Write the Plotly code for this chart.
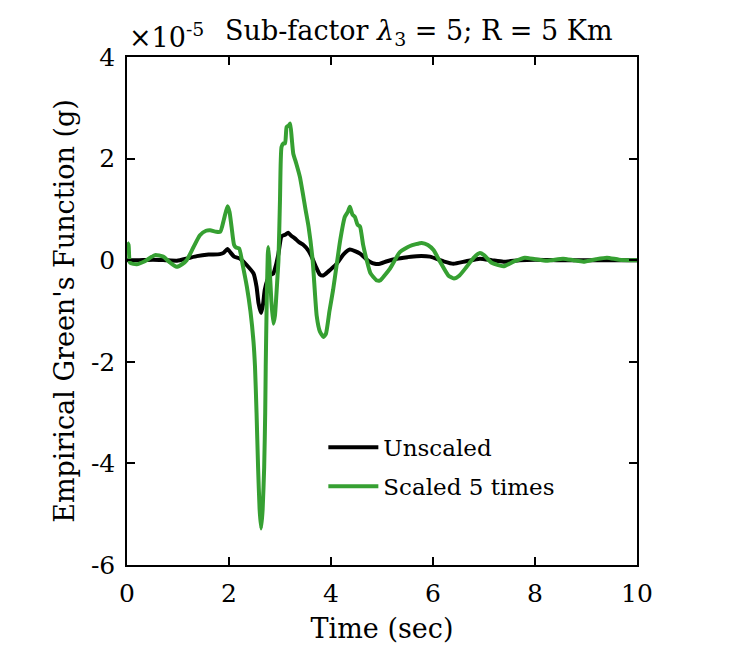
import plotly.graph_objects as go

# values, y in units of 1e-5 g
time_unscaled = [0.0, 0.2, 0.51, 0.75, 0.98, 1.2, 1.37, 1.6, 1.82, 1.9, 1.97, 2.03, 2.1, 2.22,
                 2.35, 2.48, 2.54, 2.58, 2.63, 2.67, 2.7, 2.75, 2.8, 2.87, 2.92, 2.97, 3.03,
                 3.1, 3.16, 3.22, 3.29, 3.38, 3.46, 3.55, 3.62, 3.7, 3.78, 3.85, 3.95, 4.11,
                 4.25, 4.37, 4.47, 4.57, 4.67, 4.76, 4.86, 4.96, 5.1, 5.29, 5.5, 5.68, 5.94,
                 6.2, 6.4, 6.65, 6.92, 7.15, 7.38, 7.7, 8.0, 8.5, 9.0, 9.5, 10.0]
egf_unscaled = [0.0, 0.0, 0.01, 0.0, -0.01, 0.04, 0.08, 0.11, 0.12, 0.15, 0.22, 0.15, 0.07, 0.03,
                -0.1, -0.26, -0.52, -0.85, -1.04, -0.85, -0.59, -0.4, -0.3, -0.26, -0.1, 0.13, 0.47,
                0.5, 0.54, 0.48, 0.43, 0.35, 0.3, 0.2, 0.07, -0.12, -0.28, -0.3, -0.22, -0.07,
                0.12, 0.21, 0.18, 0.13, 0.04, -0.03, -0.07, -0.07, -0.02, 0.03, 0.06, 0.08, 0.07,
                -0.02, -0.07, -0.02, 0.03, 0.0, -0.03, 0.0, 0.01, 0.0, 0.0, 0.0, 0.0]

time_scaled = [0.0, 0.03, 0.06, 0.19, 0.35, 0.55, 0.71, 0.85, 0.97, 1.08, 1.17, 1.3, 1.43, 1.55,
               1.63, 1.75, 1.83, 1.9, 1.97, 2.01, 2.05, 2.1, 2.14, 2.2, 2.27, 2.35, 2.42, 2.48,
               2.51, 2.54, 2.57, 2.6, 2.63, 2.66, 2.69, 2.71, 2.72, 2.74, 2.76, 2.77, 2.79, 2.83,
               2.87, 2.9, 2.94, 2.97, 3.0, 3.03, 3.07, 3.1, 3.13, 3.17, 3.2, 3.23, 3.26, 3.32,
               3.39, 3.45, 3.5, 3.56, 3.64, 3.72, 3.78, 3.85, 3.9, 3.97, 4.04, 4.11, 4.18, 4.27,
               4.33, 4.37, 4.42, 4.47, 4.52, 4.57, 4.63, 4.7, 4.77, 4.83, 4.9, 4.96, 5.05, 5.16,
               5.35, 5.55, 5.78, 5.9, 6.01, 6.15, 6.3, 6.41, 6.52, 6.66, 6.8, 6.92, 7.0, 7.15,
               7.38, 7.6, 7.8, 8.0, 8.23, 8.55, 8.75, 8.95, 9.2, 9.41, 9.65, 9.93, 10.0]
egf_scaled = [0.35, 0.3, -0.05, -0.08, -0.02, 0.1, 0.07, -0.05, -0.13, -0.08, 0.0, 0.25, 0.49, 0.58,
              0.59, 0.56, 0.56, 0.8, 1.06, 0.95, 0.66, 0.3, 0.25, 0.23, -0.1, -0.52, -1.0, -1.6,
              -2.1, -3.0, -4.07, -4.9, -5.28, -4.9, -4.07, -3.0, -2.1, -0.79, 0.1, 0.26, 0.0, -0.8,
              -1.25, -1.1, -0.5, 0.0, 1.2, 2.23, 2.3, 2.3, 2.62, 2.65, 2.69, 2.4, 2.1, 1.9,
              1.64, 1.3, 1.0, 0.66, 0.0, -1.1, -1.4, -1.51, -1.45, -1.0, -0.59, -0.1, 0.39, 0.85,
              0.95, 1.05, 0.9, 0.85, 0.7, 0.66, 0.3, 0.0, -0.25, -0.33, -0.4, -0.4, -0.3, -0.16,
              0.16, 0.28, 0.34, 0.3, 0.2, -0.05, -0.3, -0.36, -0.3, -0.13, 0.05, 0.14, 0.1, -0.05,
              -0.12, -0.02, 0.05, 0.02, -0.01, 0.03, 0.0, -0.03, 0.02, 0.05, 0.01, 0.0, 0.0]

x_ticks = [0, 2, 4, 6, 8, 10]
y_ticks = [4, 2, 0, -2, -4, -6]
y_ticklabels = ["4", "2", "0", "-2", "-4", "-6"]

FONT = "DejaVu Serif"
GREEN = "#36a032"

fig = go.Figure()
fig.add_trace(go.Scatter(
    x=time_unscaled, y=egf_unscaled, mode="lines", name="Unscaled", legendgroup="a",
    line=dict(color="black", width=4, shape="spline", smoothing=0.5),
))
fig.add_trace(go.Scatter(
    x=time_scaled, y=egf_scaled, mode="lines", name="Scaled 5 times", legendgroup="b",
    line=dict(color=GREEN, width=4, shape="spline", smoothing=0.5),
))

axis_common = dict(
    showgrid=False, zeroline=False, showline=True, linecolor="black", linewidth=1.5,
    mirror="ticks", ticks="inside", ticklen=8, tickwidth=1.5, tickcolor="black",
    ticklabelstandoff=5,
    tickfont=dict(family=FONT, size=25, color="black"),
)

fig.update_layout(
    width=731, height=649,
    paper_bgcolor="white", plot_bgcolor="white",
    margin=dict(l=119, r=102, t=49, b=92),
    font=dict(family=FONT, color="black"),
    showlegend=True,
    legend=dict(
        x=0.385, y=0.274, xanchor="left", yanchor="top",
        bgcolor="rgba(0,0,0,0)", font=dict(family=FONT, size=23, color="black"),
        traceorder="grouped", tracegroupgap=6, itemwidth=50,
    ),
    xaxis=dict(
        range=[0, 10], tickvals=x_ticks,
        title=dict(text="Time (sec)", font=dict(family=FONT, size=27), standoff=12),
        **axis_common,
    ),
    yaxis=dict(
        range=[-6, 4], tickvals=y_ticks, ticktext=y_ticklabels,
        title=dict(text="Empirical Green's Function (g)", font=dict(family=FONT, size=27), standoff=8),
        **axis_common,
    ),
    annotations=[
        dict(text="×10<sup>-5</sup>", x=0, y=1, xref="paper", yref="paper",
             xanchor="left", yanchor="bottom", yshift=2, showarrow=False,
             font=dict(family=FONT, size=27, color="black")),
        dict(text="Sub-factor <i>λ</i><sub>3</sub> = 5; R = 5 Km", x=0.572, y=1,
             xref="paper", yref="paper", xanchor="center", yanchor="bottom", yshift=5,
             showarrow=False, font=dict(family=FONT, size=27, color="black")),
    ],
)

fig.write_html("out.html")
